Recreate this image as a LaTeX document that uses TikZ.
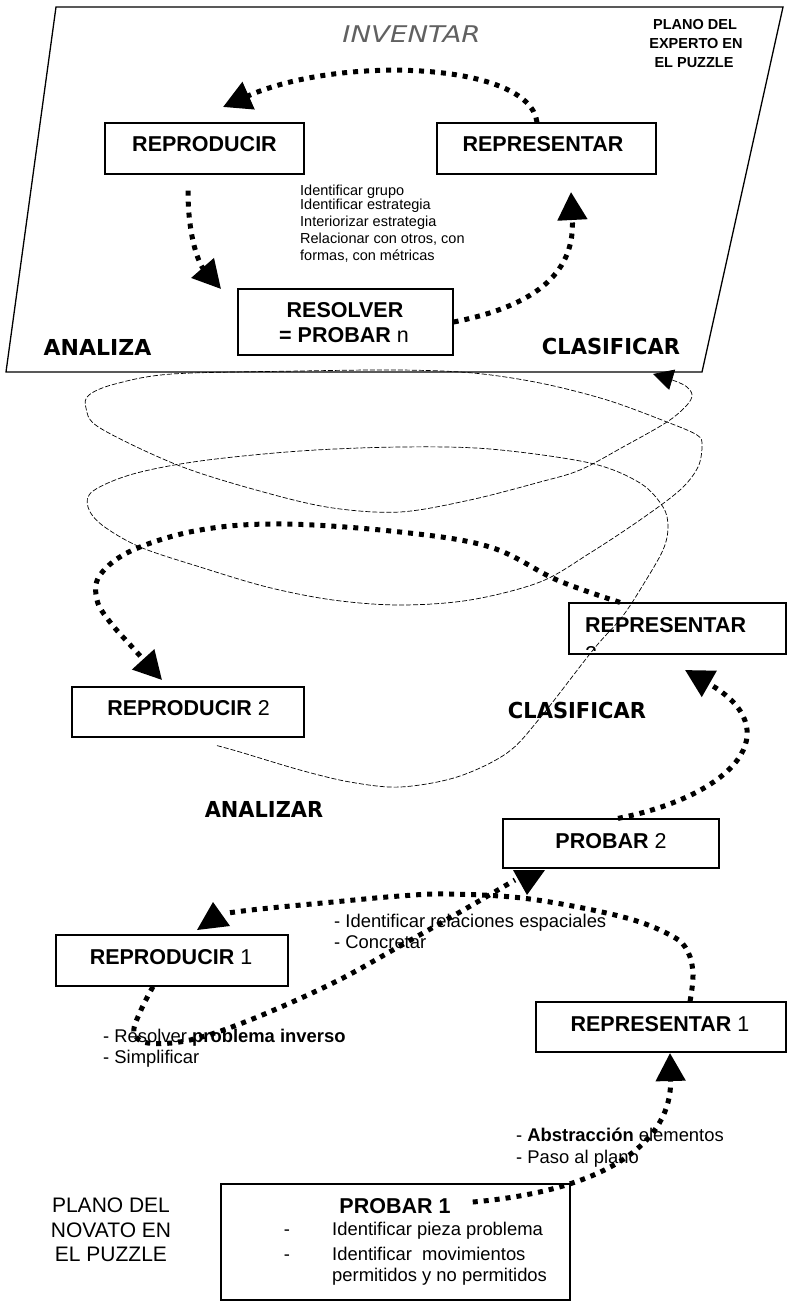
\documentclass[tikz,border=0pt]{standalone}
\usepackage{fontspec}
\setmainfont{Liberation Sans}
\newfontfamily\comicf{DejaVu Sans}
\usepackage{graphicx}
\usetikzlibrary{arrows.meta,calc}
\tikzset{
  box/.style={draw, line width=1.2pt, fill=white, inner sep=0pt},
  big/.style={font=\fontsize{21.5}{25}\selectfont},
  mid/.style={font=\fontsize{18.4}{21}\selectfont},
  small/.style={font=\fontsize{14.5}{16}\selectfont},
  cmc/.style={font=\comicf\bfseries\fontsize{22}{26}\selectfont},
  txt/.style={inner sep=0pt, anchor=base},
  dotarrow/.style={line width=5pt, dash pattern=on 5pt off 6pt},
  bighead/.style={-{Triangle[length=28pt,width=29pt]}},
  spiral/.style={line width=0.7pt, dash pattern=on 5pt off 2pt, -{Triangle[length=20pt,width=21pt]}},
}
\begin{document}
\begin{tikzpicture}[x=1pt,y=-1pt]
\useasboundingbox (0,0) rectangle (790,1304);

% expert plane
\draw[line width=1.3pt] (56,7) -- (783,7) -- (702,372) -- (6,372) -- cycle;

% boxes
\node[box, minimum width=199pt, minimum height=51pt] (repT) at (204.5,148.5) {};
\node[box, minimum width=219pt, minimum height=51pt] (presT) at (546.5,148.5) {};
\node[box, minimum width=215pt, minimum height=66pt] (resol) at (345.5,322) {};
\node[box, minimum width=217pt, minimum height=51pt] (repM2) at (677.5,628.5) {};
\node[box, minimum width=232pt, minimum height=50pt] (rep2) at (188,712) {};
\node[box, minimum width=216pt, minimum height=49pt] (prob2) at (611,843.5) {};
\node[box, minimum width=232pt, minimum height=51pt] (rep1) at (172,960.5) {};
\node[box, minimum width=250pt, minimum height=50pt] (pres1) at (661,1027) {};
\node[box, minimum width=349pt, minimum height=116pt] (prob1) at (395.5,1242) {};

% box labels
\node[txt,big] (tRepT) at (204.5,151) {\textbf{REPRODUCIR}};
\node[txt,big] (tPresT) at (543,151) {\textbf{REPRESENTAR}};
\node[txt,big] (tRes1) at (345,317) {\textbf{RESOLVER}};
\node[txt,big] (tRes2) at (344,342) {\textbf{= PROBAR} n};
\node[txt,big,anchor=base west] (tPresM) at (585,632) {\textbf{REPRESENTAR}};
\begin{scope}
  \clip (569,603) rectangle (786,650);
  \node[txt,big,anchor=base west] (tPresM2) at (585,661) {2};
\end{scope}
\node[txt,big] (tRep2) at (188.5,715) {\textbf{REPRODUCIR} 2};
\node[txt,big] (tProb2) at (611,848) {\textbf{PROBAR} 2};
\node[txt,big] (tRep1) at (171,964) {\textbf{REPRODUCIR} 1};
\node[txt,big] (tPres1) at (660,1031) {\textbf{REPRESENTAR} 1};
\node[txt,big] (tProb1) at (395,1213) {\textbf{PROBAR 1}};

% PROBAR 1 list
\node[txt,mid] (d1) at (287,1235) {-};
\node[txt,mid,anchor=base west] (l1) at (332,1235) {Identificar pieza problema};
\node[txt,mid] (d2) at (287,1260) {-};
\node[txt,mid,anchor=base west] (l2) at (332,1260) {Identificar\ \ movimientos};
\node[txt,mid,anchor=base west] (l3) at (332,1281) {permitidos y no permitidos};

% top list
\node[txt,small,anchor=base west] (s1) at (300,195) {Identificar grupo};
\node[txt,small,anchor=base west] (s2) at (300,209.5) {Identificar estrategia};
\node[txt,small,anchor=base west] (s3) at (300,226.7) {Interiorizar estrategia};
\node[txt,small,anchor=base west] (s4) at (300,243.3) {Relacionar con otros, con};
\node[txt,small,anchor=base west] (s5) at (300,260.7) {formas, con métricas};

% middle/bottom annotations
\node[txt,mid,anchor=base west] (m1) at (334,927) {- Identificar relaciones espaciales};
\node[txt,mid,anchor=base west] (m2) at (334,948) {- Concretar};
\node[txt,mid,anchor=base west] (m3) at (103,1042) {- Resolver \textbf{problema inverso}};
\node[txt,mid,anchor=base west] (m4) at (103,1063) {- Simplificar};
\node[txt,mid,anchor=base west] (m5) at (516,1141) {- \textbf{Abstracción} elementos};
\node[txt,mid,anchor=base west] (m6) at (516,1163) {- Paso al plano};

% plane titles
\node[txt,font=\fontsize{14.5}{17}\selectfont\bfseries] (e1) at (695,29) {PLANO DEL};
\node[txt,font=\fontsize{14.5}{17}\selectfont\bfseries] (e2) at (696,48) {EXPERTO EN};
\node[txt,font=\fontsize{14.5}{17}\selectfont\bfseries] (e3) at (694,67) {EL PUZZLE};
\node[txt,font=\fontsize{21}{24}\selectfont] (n1) at (111,1212) {PLANO DEL};
\node[txt,font=\fontsize{21}{24}\selectfont] (n2) at (111,1237) {NOVATO EN};
\node[txt,font=\fontsize{21}{24}\selectfont] (n3) at (111,1261) {EL PUZZLE};

% comic labels
\node[txt,font=\comicf\itshape\fontsize{23}{26}\selectfont,text=black!62] (inv) at (411.5,42) {\scalebox{1.2}[1]{INVENTAR}};
\node[txt,cmc] (ana1) at (97.5,355) {ANALIZA};
\node[txt,cmc] (cla1) at (611,354) {\scalebox{0.955}[1]{CLASIFICAR}};
\node[txt,cmc] (cla2) at (577,718) {\scalebox{0.955}[1]{CLASIFICAR}};
\node[txt,cmc] (ana2) at (264,817) {\scalebox{0.95}[1]{ANALIZAR}};

% spiral connecting the planes
\draw[spiral] plot[smooth, tension=0.55] coordinates {
  ([shift={(29,8)}]rep2.south) (240,752) (300,770) (350,782) (400,787) (457,777)
  (507,753) (540,718) (593,650) (622,617) (643,585) (663,550) (668,527)
  (663,507) (640,483) (590,463) (490,449) (400,447) (300,451) (200,461)
  (133,474) (93,491) (88,507) (102,525) (140,547) (200,567) (267,587)
  (333,600) (400,605) (470,600) (540,582) (590,553) (640,520) (680,490)
  (698,467) (702,445) (697,435) (667,422) (607,400) (540,383) (473,373)
  (400,370) (300,371) (172,374) (115,384) (89,395) (86,408) (100,428)
  (180,466) (267,493) (333,508) (400,512) (470,500) (540,482) (580,470)
  (623,447) (667,422) (687,405) (692,395) (687,387) (675,381) (653,374)};

% thick dotted arrows
\coordinate (tip1) at (223,107);
\coordinate (tip2) at (221,289);
\coordinate (tip3) at (571,192);
\coordinate (tip5) at (685,670);
\coordinate (tip8) at (670,1053);
\draw[dotarrow,bighead] ([xshift=-9.5pt]presT.north) .. controls (530,62) and (340,55) .. (tip1);
\draw[dotarrow,bighead] ([shift={(-16.5,16)}]repT.south) .. controls (188,240) and (200,265) .. (tip2);
\draw[dotarrow,bighead] (resol.east) .. controls (540,305) and (575,270) .. (tip3);
\draw[dotarrow,bighead] plot[smooth, tension=0.6] coordinates {
  ([xshift=-57.5pt]repM2.north) (557,580) (490,547) (400,532) (283,524) (200,530)
  (133,550) (100,575) (97,600) (110,622) (133,648) (162,680)};
\draw[dotarrow,bighead] ([xshift=7pt]prob2.north) .. controls (735,795) and (790,730) .. (tip5);
\draw[dotarrow] plot[smooth, tension=0.6] coordinates {
  ([xshift=29pt]pres1.north) (693,975) (688,952) (672,936) (623,917) (530,899)
  (450,894) (400,896) (333,902) (260,909) (228,913)};
\fill (197,930) -- (213,902) -- (230,926) -- cycle;
\draw[dotarrow] plot[smooth, tension=0.6] coordinates {
  ([xshift=-19pt]rep1.south) (141,1010) (134,1032) (148,1043) (190,1040) (250,1020)
  (333,983) (400,946) (460,912) (515,880)};
\fill (513,870) -- (545,870) -- (527,895) -- cycle;
\draw[dotarrow,bighead] ([shift={(22,-11)}]tProb1.base east) .. controls (610,1190) and (672,1140) .. (tip8);
\end{tikzpicture}
\end{document}
